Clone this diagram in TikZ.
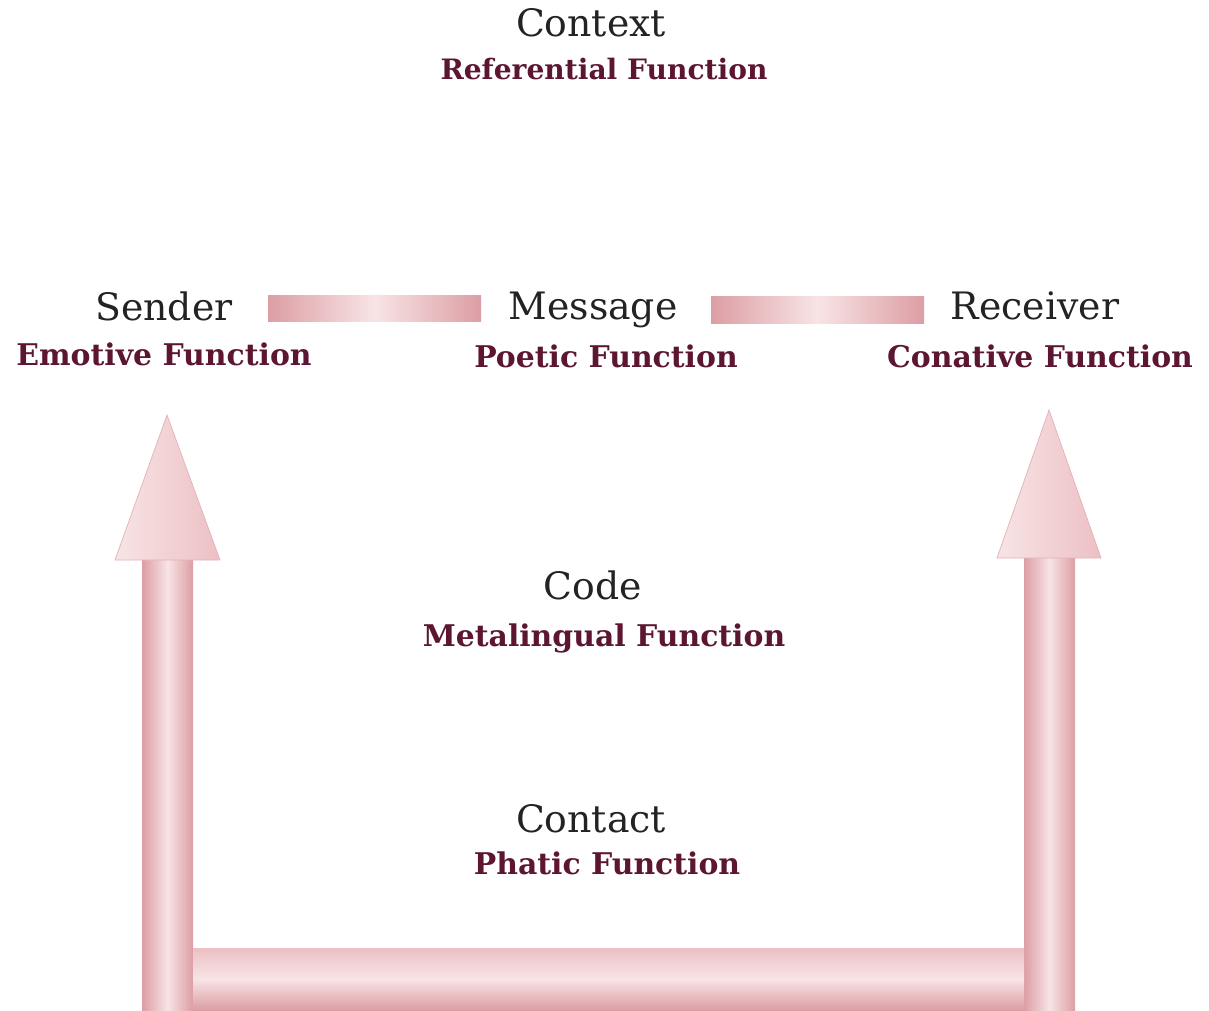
\documentclass[tikz,border=0pt]{standalone}
\usepackage{fontspec}
\setmainfont{DejaVu Serif}
\definecolor{pinkD}{RGB}{220,158,164}
\definecolor{pinkM}{RGB}{236,192,196}
\definecolor{pinkL}{RGB}{248,228,229}
\definecolor{maroon}{RGB}{92,22,50}
\definecolor{ink}{RGB}{35,35,35}
\tikzset{
  headtext/.style={font=\fontsize{21.5}{25}\selectfont, text=ink, inner sep=0pt, anchor=base},
  functext/.style={font=\bfseries\fontsize{17}{20}\selectfont, text=maroon, inner sep=0pt, anchor=base},
  linkbar/.style={left color=pinkD, right color=pinkD, middle color=pinkL},
  shaft/.style={left color=pinkD, right color=pinkD, middle color=pinkL},
  basebar/.style={top color=pinkM, bottom color=pinkD, middle color=pinkL},
  arrowhead/.style={left color=pinkL, right color=pinkM, draw=pinkD!80, line width=0.4pt}
}
\begin{document}
\begin{tikzpicture}[x=0.02cm,y=-0.02cm]
\useasboundingbox (0,0) rectangle (1209,1010);
% texts
\node[headtext] (context) at (591,37) {Context};
\node[functext, font=\bfseries\fontsize{16}{19}\selectfont] (ref) at (604,80) {Referential Function};
\node[headtext] (sender) at (164,320) {Sender};
\node[functext] (emot) at (164,365) {Emotive Function};
\node[headtext] (message) at (593,319) {Message};
\node[functext] (poet) at (606,367) {Poetic Function};
\node[headtext] (receiver) at (1035,319) {Receiver};
\node[functext] (conat) at (1040,367) {Conative Function};
\node[headtext] (code) at (593,599) {Code};
\node[functext] (meta) at (604,646) {Metalingual Function};
\node[headtext] (contact) at (591,832) {Contact};
\node[functext] (phat) at (607,874) {Phatic Function};
% bars between sender/message/receiver
\shade[linkbar] (268,295) rectangle (481,321);
\shade[linkbar] (711,296) rectangle (924,323);
% shafts
\shade[shaft] (142,558) rectangle (193,1010);
\shade[shaft] (1024,558) rectangle (1075,1010);
% bottom bar
\shade[basebar] (193,948) rectangle (1024,1010);
% arrow heads
\shade[arrowhead] (167,415) -- (220,560) -- (115,560) -- cycle;
\shade[arrowhead] (1049,410) -- (1101,558) -- (997,558) -- cycle;
\end{tikzpicture}
\end{document}
